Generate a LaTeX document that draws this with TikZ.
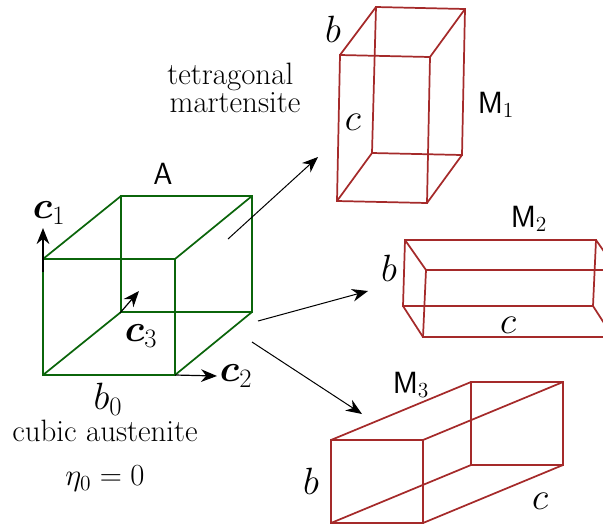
\RequirePackage{fix-cm}
\documentclass[tikz,border=0pt]{standalone}
\usepackage{amsmath}
\usepackage{bm}
\usetikzlibrary{arrows.meta}
\definecolor{austenitegreen}{HTML}{0B650B}
\definecolor{martensitered}{HTML}{A52A2A}

\tikzset{
    austenite/.style={austenitegreen, line width=1.3pt},
    martensite/.style={martensitered, line width=1.3pt},
    transform/.style={->, black, line width=0.75pt},
    axis/.style={->, black, line width=0.9pt},
    bigtext/.style={font=\fontsize{23.2}{19.5}\selectfont, text=black, inner sep=0pt},
    symbol/.style={font=\fontsize{28.5}{32}\selectfont, text=black, inner sep=0pt},
    tag/.style={font=\fontsize{23}{27}\selectfont\sffamily, text=black, inner sep=0pt}
}

\begin{document}
\begin{tikzpicture}[x=0.75pt, y=-0.75pt, >={Stealth[length=12pt, width=9.5pt]}]

    \clip (0,0) rectangle (603,526);

    % Cubic austenite
    \draw[austenite] (43,259) -- (175,259) -- (175,375) -- (43,375) -- cycle;
    \draw[austenite] (121,196) -- (252,196) -- (252,312) -- (121,312) -- cycle;
    \foreach \xa/\ya/\xb/\yb in {43/259/121/196, 175/259/252/196, 175/375/252/312, 43/375/121/312} {
        \draw[austenite] (\xa,\ya) -- (\xb,\yb);
    }

    % M1
    \draw[martensite] (340,55) -- (430,57) -- (427,203) -- (337,201) -- cycle;
    \draw[martensite] (376,7) -- (465,9) -- (462,155) -- (372,153) -- cycle;
    \foreach \xa/\ya/\xb/\yb in {340/55/376/7, 430/57/465/9, 427/203/462/155, 337/201/372/153} {
        \draw[martensite] (\xa,\ya) -- (\xb,\yb);
    }

    % M2 (runs off the right edge)
    \draw[martensite] (405,240) -- (596,240) -- (593,306) -- (403,306) -- cycle;
    \draw[martensite] (426,270) -- (617,270) -- (613,337) -- (423,337) -- cycle;
    \foreach \xa/\ya/\xb/\yb in {405/240/426/270, 596/240/617/270, 593/306/613/337, 403/306/423/337} {
        \draw[martensite] (\xa,\ya) -- (\xb,\yb);
    }

    % M3
    \draw[martensite] (331,440) -- (423,440) -- (423,523) -- (331,523) -- cycle;
    \draw[martensite] (471,382) -- (563,382) -- (563,465) -- (471,465) -- cycle;
    \foreach \xa/\ya/\xb/\yb in {331/440/471/382, 423/440/563/382, 423/523/563/465, 331/523/471/465} {
        \draw[martensite] (\xa,\ya) -- (\xb,\yb);
    }

    % Lattice vectors
    \coordinate (c1start) at (43,272);
    \coordinate (c1end) at (43,228);
    \coordinate (c2start) at (175,375);
    \coordinate (c2end) at (217,376);
    \coordinate (c3start) at (120,313);
    \coordinate (c3end) at (139,291);
    \draw[axis] (c1start) -- (c1end);
    \draw[axis] (c2start) -- (c2end);
    \draw[axis] (c3start) -- (c3end);

    % Transformation paths
    \coordinate (fromAone) at (228,239);
    \coordinate (toMone) at (318,157);
    \coordinate (fromAtwo) at (258,321);
    \coordinate (toMtwo) at (368,291);
    \coordinate (fromAthree) at (252,342);
    \coordinate (toMthree) at (362,414);
    \draw[transform] (fromAone) -- (toMone);
    \draw[transform] (fromAtwo) -- (toMtwo);
    \draw[transform] (fromAthree) -- (toMthree);

    % Labels
    \node[tag] (labelA) at (163,174) {A};
    \node[tag] (labelMone) at (496,105) {M$_1$};
    \node[tag] (labelMtwo) at (529,219) {M$_2$};
    \node[tag] (labelMthree) at (411,385) {M$_3$};
    \node[symbol] (labelcone) at (49,213) {$\bm{c}_1$};
    \node[symbol] (labelctwo) at (236,376) {$\bm{c}_2$};
    \node[symbol] (labelcthree) at (141,336) {$\bm{c}_3$};
    \node[symbol] (labelbzero) at (108,399) {$b_0$};
    \node[symbol] (labelbone) at (333,29) {$b$};
    \node[symbol] (labelcm) at (353,122) {$c$};
    \node[symbol] (labelbtwo) at (389,268) {$b$};
    \node[symbol] (labelctm) at (508,325) {$c$};
    \node[symbol] (labelbthree) at (311,481) {$b$};
    \node[symbol] (labelcthreem) at (540,501) {$c$};
    \node[bigtext, align=center] (labeltetra) at (235,88) {tetragonal\hspace*{0.3em}\\ martensite};
    \node[bigtext] (labelcubic) at (105,431) {cubic austenite};
    \node[font=\fontsize{23}{27}\selectfont, inner sep=0pt] (labeleta) at (105,479) {$\eta_0 = 0$};

\end{tikzpicture}
\end{document}
